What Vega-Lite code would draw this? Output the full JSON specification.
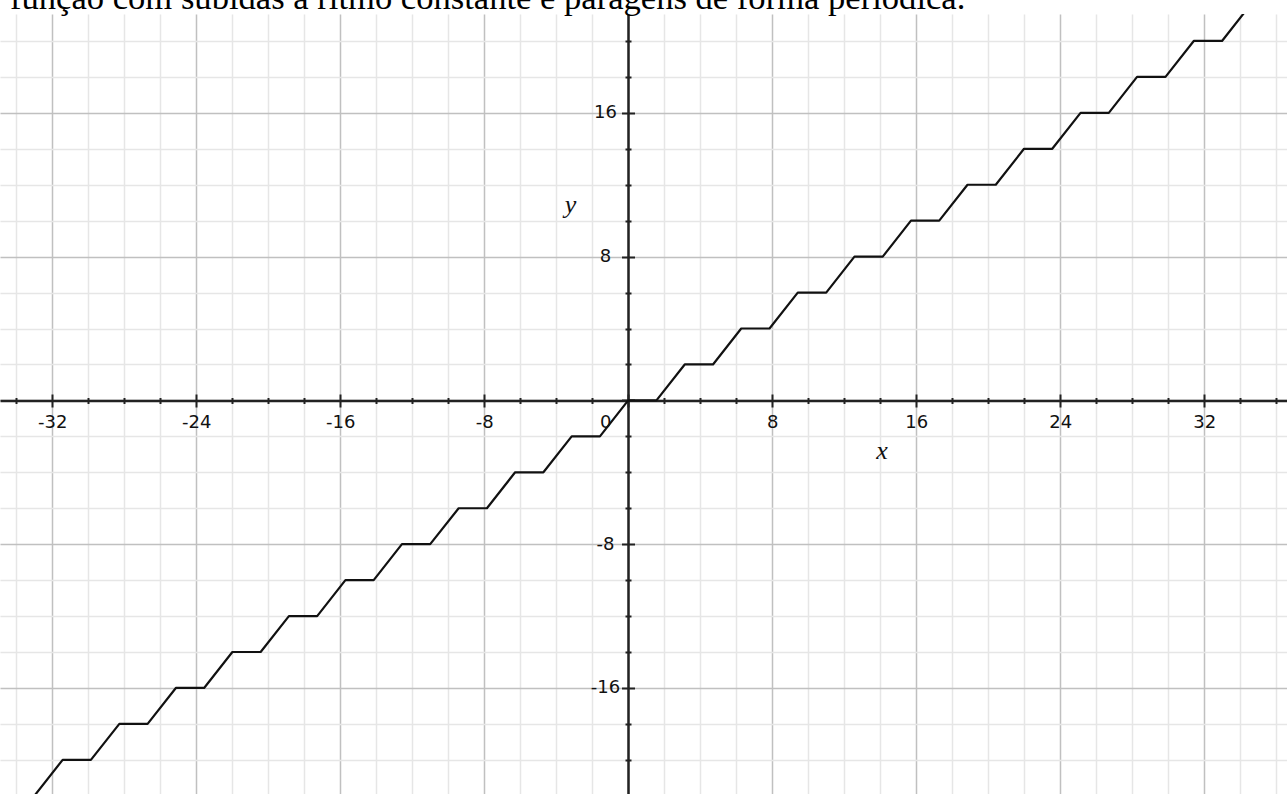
{
  "$schema": "https://vega.github.io/schema/vega-lite/v6.json",
  "width": 1287,
  "height": 780,
  "autosize": "none",
  "padding": {"top": 14, "left": 0, "right": 0, "bottom": 0},
  "background": "white",
  "title": {
    "text": "função com subidas a ritmo constante e paragens de forma periódica.",
    "anchor": "start",
    "frame": "group",
    "orient": "top",
    "offset": 2,
    "baseline": "alphabetic",
    "font": "Liberation Serif",
    "fontSize": 34.6,
    "fontWeight": "normal",
    "color": "#000000",
    "dx": 10,
    "dy": 32
  },
  "config": {"view": {"stroke": null}},
  "layer": [
    {
      "data": {
        "values": [
          {"x": -34.56, "y": -22}, {"x": -32.99, "y": -22},
          {"x": -31.42, "y": -20}, {"x": -29.85, "y": -20},
          {"x": -28.27, "y": -18}, {"x": -26.70, "y": -18},
          {"x": -25.13, "y": -16}, {"x": -23.56, "y": -16},
          {"x": -21.99, "y": -14}, {"x": -20.42, "y": -14},
          {"x": -18.85, "y": -12}, {"x": -17.28, "y": -12},
          {"x": -15.71, "y": -10}, {"x": -14.14, "y": -10},
          {"x": -12.57, "y": -8}, {"x": -11.00, "y": -8},
          {"x": -9.42, "y": -6}, {"x": -7.85, "y": -6},
          {"x": -6.28, "y": -4}, {"x": -4.71, "y": -4},
          {"x": -3.14, "y": -2}, {"x": -1.57, "y": -2},
          {"x": 0, "y": 0}, {"x": 1.57, "y": 0},
          {"x": 3.14, "y": 2}, {"x": 4.71, "y": 2},
          {"x": 6.28, "y": 4}, {"x": 7.85, "y": 4},
          {"x": 9.42, "y": 6}, {"x": 11.00, "y": 6},
          {"x": 12.57, "y": 8}, {"x": 14.14, "y": 8},
          {"x": 15.71, "y": 10}, {"x": 17.28, "y": 10},
          {"x": 18.85, "y": 12}, {"x": 20.42, "y": 12},
          {"x": 21.99, "y": 14}, {"x": 23.56, "y": 14},
          {"x": 25.13, "y": 16}, {"x": 26.70, "y": 16},
          {"x": 28.27, "y": 18}, {"x": 29.85, "y": 18},
          {"x": 31.42, "y": 20}, {"x": 32.99, "y": 20},
          {"x": 34.56, "y": 22}
        ]
      },
      "mark": {"type": "line", "color": "#111111", "strokeWidth": 2.2, "clip": true, "strokeJoin": "round"},
      "encoding": {
        "x": {
          "field": "x",
          "type": "quantitative",
          "scale": {"domain": [-34.9, 36.6], "nice": false, "zero": false},
          "axis": {
            "orient": "bottom",
            "offset": -393.5,
            "title": null,
            "values": [-34, -32, -30, -28, -26, -24, -22, -20, -18, -16, -14, -12, -10, -8, -6, -4, -2, 0, 2, 4, 6, 8, 10, 12, 14, 16, 18, 20, 22, 24, 26, 28, 30, 32, 34, 36],
            "grid": true,
            "gridColor": {"condition": {"test": "datum.value % 8 === 0", "value": "#c0c0c0"}, "value": "#e6e6e6"},
            "gridWidth": 1.5,
            "domain": true,
            "domainColor": "#222222",
            "domainWidth": 2.5,
            "ticks": true,
            "tickColor": "#222222",
            "tickWidth": 2,
            "tickSize": {"condition": {"test": "datum.value % 8 === 0", "value": 6.5}, "value": 3},
            "labelExpr": "datum.value % 8 === 0 ? '' + datum.value : ''",
            "labelOffset": {"condition": {"test": "datum.value === 0", "value": -23}, "value": 0},
            "labelAlign": "center",
            "labelBaseline": "middle",
            "labelPadding": 15,
            "labelFont": "DejaVu Sans",
            "labelFontSize": 18,
            "labelColor": "#111111",
            "labelOverlap": false,
            "labelFlush": false,
            "labelBound": false
          }
        },
        "y": {
          "field": "y",
          "type": "quantitative",
          "scale": {"domain": [-21.9, 21.5], "nice": false, "zero": false},
          "axis": {
            "orient": "left",
            "offset": -628,
            "title": null,
            "values": [-20, -18, -16, -14, -12, -10, -8, -6, -4, -2, 0, 2, 4, 6, 8, 10, 12, 14, 16, 18, 20],
            "grid": true,
            "gridColor": {"condition": {"test": "datum.value % 8 === 0", "value": "#c0c0c0"}, "value": "#e6e6e6"},
            "gridWidth": 1.5,
            "domain": true,
            "domainColor": "#222222",
            "domainWidth": 2.5,
            "ticks": true,
            "tickColor": "#222222",
            "tickWidth": 2,
            "tickSize": {"condition": {"test": "datum.value % 8 === 0", "value": 6.5}, "value": 3},
            "labelExpr": "datum.value !== 0 && datum.value % 8 === 0 ? '' + datum.value : ''",
            "labelAlign": "center",
            "labelBaseline": "middle",
            "labelPadding": 16.5,
            "labelFont": "DejaVu Sans",
            "labelFontSize": 18,
            "labelColor": "#111111",
            "labelOverlap": false,
            "labelFlush": false,
            "labelBound": false
          }
        }
      }
    },
    {
      "data": {
        "values": [
          {"x": 14.1, "y": -2.8, "label": "x"},
          {"x": -3.2, "y": 10.9, "label": "y"}
        ]
      },
      "mark": {"type": "text", "font": "Liberation Serif", "fontStyle": "italic", "fontSize": 26, "color": "#111111", "align": "center", "baseline": "middle"},
      "encoding": {
        "x": {
          "field": "x",
          "type": "quantitative",
          "axis": {
            "orient": "bottom",
            "offset": -393.5,
            "title": null,
            "values": [-34, -32, -30, -28, -26, -24, -22, -20, -18, -16, -14, -12, -10, -8, -6, -4, -2, 0, 2, 4, 6, 8, 10, 12, 14, 16, 18, 20, 22, 24, 26, 28, 30, 32, 34, 36],
            "grid": false,
            "domain": false,
            "labels": false,
            "ticks": true,
            "tickColor": "#222222",
            "tickWidth": 2,
            "tickSize": {"condition": {"test": "datum.value % 8 === 0", "value": -6.5}, "value": -3}
          }
        },
        "y": {
          "field": "y",
          "type": "quantitative",
          "axis": {
            "orient": "left",
            "offset": -628,
            "title": null,
            "values": [-20, -18, -16, -14, -12, -10, -8, -6, -4, -2, 0, 2, 4, 6, 8, 10, 12, 14, 16, 18, 20],
            "grid": false,
            "domain": false,
            "labels": false,
            "ticks": true,
            "tickColor": "#222222",
            "tickWidth": 2,
            "tickSize": {"condition": {"test": "datum.value % 8 === 0", "value": -6.5}, "value": -3}
          }
        },
        "text": {"field": "label", "type": "nominal"}
      }
    }
  ],
  "resolve": {"axis": {"x": "independent", "y": "independent"}}
}
